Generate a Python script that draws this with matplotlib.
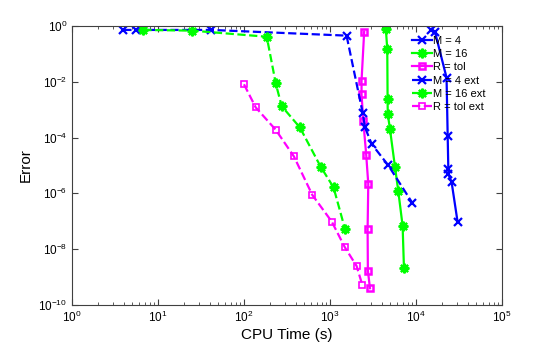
"""
    CPU time vs error, log-log
"""

import matplotlib.pyplot as plt
from matplotlib.ticker import LogLocator, NullFormatter, NullLocator

plt.rcParams['font.family'] = ['Liberation Sans', 'DejaVu Sans']
plt.rcParams['mathtext.fontset'] = 'custom'
plt.rcParams['mathtext.rm'] = 'Liberation Sans'
plt.rcParams['mathtext.it'] = 'Liberation Sans'

# M = 4
m4_t = [14900, 16700, 22700, 23400, 23800, 23800, 26000, 30500]
m4_err = [0.72, 0.59, 0.014, 1.1e-4, 7.3e-6, 5e-6, 2.5e-6, 9.5e-8]
# M = 16
m16_t = [4470, 4640, 4680, 4700, 4990, 5700, 6220, 7000, 7250]
m16_err = [0.76, 0.146, 2.4e-3, 7e-4, 2e-4, 9e-6, 1.26e-6, 6.8e-8, 2.2e-9]
# R = tol
rt_t = [2500, 2330, 2330, 2440, 2640, 2790, 2740, 2760, 2920]
rt_err = [0.63, 0.011, 3.5e-3, 4e-4, 2.4e-5, 2.2e-6, 5.1e-8, 1.7e-9, 4e-10]
# M = 4 ext
m4e_t = [3.95, 5.6, 41.5, 1560, 2400, 2560, 3050, 4780, 9060]
m4e_err = [0.72, 0.72, 0.72, 0.45, 7.8e-4, 2.3e-4, 5.9e-5, 1e-5, 4.6e-7]
# M = 16 ext
m16e_t = [6.75, 25, 184, 234, 274, 447, 780, 1100, 1490]
m16e_err = [0.72, 0.68, 0.41, 8.8e-3, 1.35e-3, 2.3e-4, 9e-6, 1.65e-6, 5.5e-8]
# R = tol ext
rte_t = [100, 137, 234, 381, 623, 1050, 1490, 2040, 2380]
rte_err = [8.1e-3, 1.2e-3, 1.9e-4, 2.1e-5, 8.8e-7, 9.7e-8, 1.17e-8, 2.5e-9, 5.2e-10]

blue = (0, 0, 1)
green = (0, 1, 0)
magenta = (1, 0, 1)
star = (8, 2, 0)  # matlab-like asterisk

fig = plt.figure(figsize=(5.54, 3.46), dpi=100)
ax = fig.add_axes([0.13, 0.1185, 0.776, 0.8065])

ax.loglog(m4_t, m4_err, '-x', color=blue, lw=1.6, ms=6, mew=1.6, label='M = 4')
ax.loglog(m16_t, m16_err, '-', marker=star, color=green, lw=1.6, ms=7, mew=1.6,
          label='M = 16')
ax.loglog(rt_t, rt_err, '-s', color=magenta, lw=1.6, ms=5, mew=1.8,
          mfc='none', label='R = tol')
ax.loglog(m4e_t, m4e_err, '--x', color=blue, lw=1.6, ms=6, mew=1.6, label='M = 4 ext')
ax.loglog(m16e_t, m16e_err, '--', marker=star, color=green, lw=1.6, ms=7, mew=1.6,
          label='M = 16 ext')
ax.loglog(rte_t, rte_err, '--s', color=magenta, lw=1.6, ms=5, mew=1.2,
          mfc='none', label='R = tol ext')

ax.set_xlim(1, 1e5)
ax.set_ylim(1e-10, 1)
ax.set_yticks([1e-10, 1e-8, 1e-6, 1e-4, 1e-2, 1])
ax.yaxis.set_minor_locator(NullLocator())
ax.yaxis.set_minor_formatter(NullFormatter())
ax.xaxis.set_minor_locator(LogLocator(base=10, subs=range(2, 10), numticks=20))
ax.xaxis.set_minor_formatter(NullFormatter())

ax.tick_params(which='both', direction='in', top=True, right=True,
               colors='#404040', labelcolor='black', labelsize=8.5)
ax.tick_params(which='major', length=4)
ax.tick_params(which='minor', length=2)
for s in ax.spines.values():
    s.set_color('#404040')
    s.set_linewidth(0.8)

ax.set_xlabel('CPU Time (s)', fontsize=11, labelpad=2)
ax.set_ylabel('Error', fontsize=11, labelpad=4)

ax.legend(loc='upper left', frameon=False, fontsize=8, handlelength=1.8,
          handletextpad=0.1, labelspacing=0.3, borderaxespad=0, borderpad=0,
          bbox_to_anchor=(0.79, 0.965))

fig.savefig('out.png', dpi=100)
